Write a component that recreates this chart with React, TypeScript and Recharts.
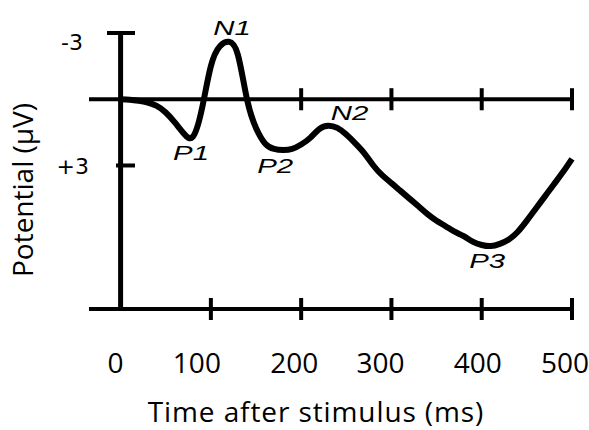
import {
  LineChart,
  Line,
  XAxis,
  YAxis,
  ReferenceLine,
  ReferenceDot,
  Label,
} from "recharts";

// time after stimulus (ms) and potential (µV)
const times = [
  0, 10, 20, 30, 40, 50, 60, 70, 80, 90, 100, 110, 120, 130, 140, 150, 160,
  170, 180, 190, 200, 210, 220, 230, 240, 250, 260, 270, 280, 290, 300, 310,
  320, 330, 340, 350, 360, 370, 380, 390, 400, 410, 420, 430, 440, 450, 460,
  470, 480, 490, 500,
];
const potentials = [
  0, 0.02, 0.07, 0.15, 0.3, 0.6, 1.05, 1.55, 1.7, 0.45, -1.5, -2.4, -2.6,
  -2.0, 0, 1.3, 2.0, 2.25, 2.3, 2.25, 2.05, 1.75, 1.35, 1.2, 1.3, 1.6, 2.0,
  2.45, 3.0, 3.45, 3.8, 4.15, 4.5, 4.85, 5.2, 5.5, 5.75, 6.0, 6.2, 6.45, 6.6,
  6.65, 6.55, 6.35, 6.0, 5.5, 4.95, 4.4, 3.85, 3.3, 2.7,
];

const peakNames = ["P1", "N1", "P2", "N2", "P3"];
const peakTimes = [78, 118, 180, 228, 405];
const peakValues = [1.73, -2.6, 2.3, 1.2, 6.65];

const xTicks = [0, 100, 200, 300, 400, 500];
const zeroLineTicks = [200, 300, 400, 500];
const yTicks = [-3, 3];
const yTickLabels = ["-3", "+3"];

const data = times.map((t, i) => ({ t, v: potentials[i] }));
const peaks = peakNames.map((name, i) => ({
  name,
  t: peakTimes[i],
  v: peakValues[i],
}));

// label offsets from each peak, in pixels
const peakOffset: Record<string, [number, number]> = {
  P1: [0, 15],
  N1: [5, -14],
  P2: [-8, 16],
  N2: [23, -13],
  P3: [1, 15],
};
const xLabelShift: Record<number, number> = {
  0: -5,
  100: -14,
  200: -7,
  300: -11,
  400: -4,
  500: -7,
};

const textFont = "'Open Sans', sans-serif";

const XTick = ({ x, y, payload }: any) => (
  <g>
    {payload.value !== 0 && (
      <line x1={x} x2={x} y1={y - 11} y2={y + 11} stroke="#000" strokeWidth={4} />
    )}
    <text
      x={x + (xLabelShift[payload.value] ?? 0)}
      y={y + 53}
      textAnchor="middle"
      dominantBaseline="central"
      fontFamily={textFont}
      fontSize={28}
      fill="#000"
    >
      {payload.value}
    </text>
  </g>
);

const YTick = ({ x, y, payload }: any) => {
  const i = yTicks.indexOf(payload.value);
  const top = i === 0;
  return (
    <g>
      <line
        x1={x + (top ? 18 : 27)}
        x2={x + 46}
        y1={y}
        y2={y}
        stroke="#000"
        strokeWidth={4}
      />
      <text
        x={top ? x - 6 : x}
        y={top ? y + 9 : y + 1}
        textAnchor="end"
        dominantBaseline="central"
        fontFamily="'DejaVu Sans', sans-serif"
        fontSize={22}
        fill="#000"
      >
        {yTickLabels[i]}
      </text>
    </g>
  );
};

const PeakLabel = ({ cx, cy, name }: any) => {
  const [dx, dy] = peakOffset[name];
  return (
    <text
      transform={`translate(${cx + dx},${cy + dy}) scale(1.4,1)`}
      textAnchor="middle"
      dominantBaseline="central"
      fontFamily="'Liberation Sans', Arial, sans-serif"
      fontStyle="italic"
      fontSize={21}
      fill="#000"
    >
      {name}
    </text>
  );
};

export default function App() {
  return (
    <div
      style={{
        position: "absolute",
        left: 0,
        top: 0,
        background: "#fff",
        width: 589,
        height: 430,
      }}
    >
      <LineChart
        width={589}
        height={430}
        data={data}
        margin={{ top: 33, right: 17, bottom: 0, left: 0 }}
      >
        <XAxis
          dataKey="t"
          type="number"
          domain={[-35, 500]}
          ticks={xTicks}
          interval={0}
          height={121}
          axisLine={{ stroke: "#000", strokeWidth: 4 }}
          tickLine={false}
          tickSize={0}
          tickMargin={0}
          tick={<XTick />}
        >
          <Label
            content={() => (
              <text
                x={316}
                y={422}
                textAnchor="middle"
                fontFamily={textFont}
                fontSize={28}
                letterSpacing={0.9}
                fill="#000"
              >
                Time after stimulus (ms)
              </text>
            )}
          />
        </XAxis>
        <YAxis
          type="number"
          domain={[-3, 9.5]}
          reversed
          ticks={yTicks}
          interval={0}
          width={89}
          axisLine={false}
          tickLine={false}
          tickSize={0}
          tickMargin={0}
          tick={<YTick />}
        >
          <Label
            content={() => (
              <text
                transform="translate(33,190) rotate(-90)"
                textAnchor="middle"
                fontFamily={textFont}
                fontSize={28}
                fill="#000"
              >
                Potential (µV)
              </text>
            )}
          />
        </YAxis>
        <ReferenceLine x={0} stroke="#000" strokeWidth={5} />
        <ReferenceLine y={0} stroke="#000" strokeWidth={4} />
        {zeroLineTicks.map((t) => (
          <ReferenceLine
            key={t}
            segment={[
              { x: t, y: -0.5 },
              { x: t, y: 0.5 },
            ]}
            stroke="#000"
            strokeWidth={4}
          />
        ))}
        <Line
          type="natural"
          dataKey="v"
          stroke="#000"
          strokeWidth={6}
          dot={false}
          isAnimationActive={false}
        />
        {peaks.map((p) => (
          <ReferenceDot
            key={p.name}
            x={p.t}
            y={p.v}
            r={0}
            shape={(props: any) => <PeakLabel {...props} name={p.name} />}
          />
        ))}
      </LineChart>
    </div>
  );
}
